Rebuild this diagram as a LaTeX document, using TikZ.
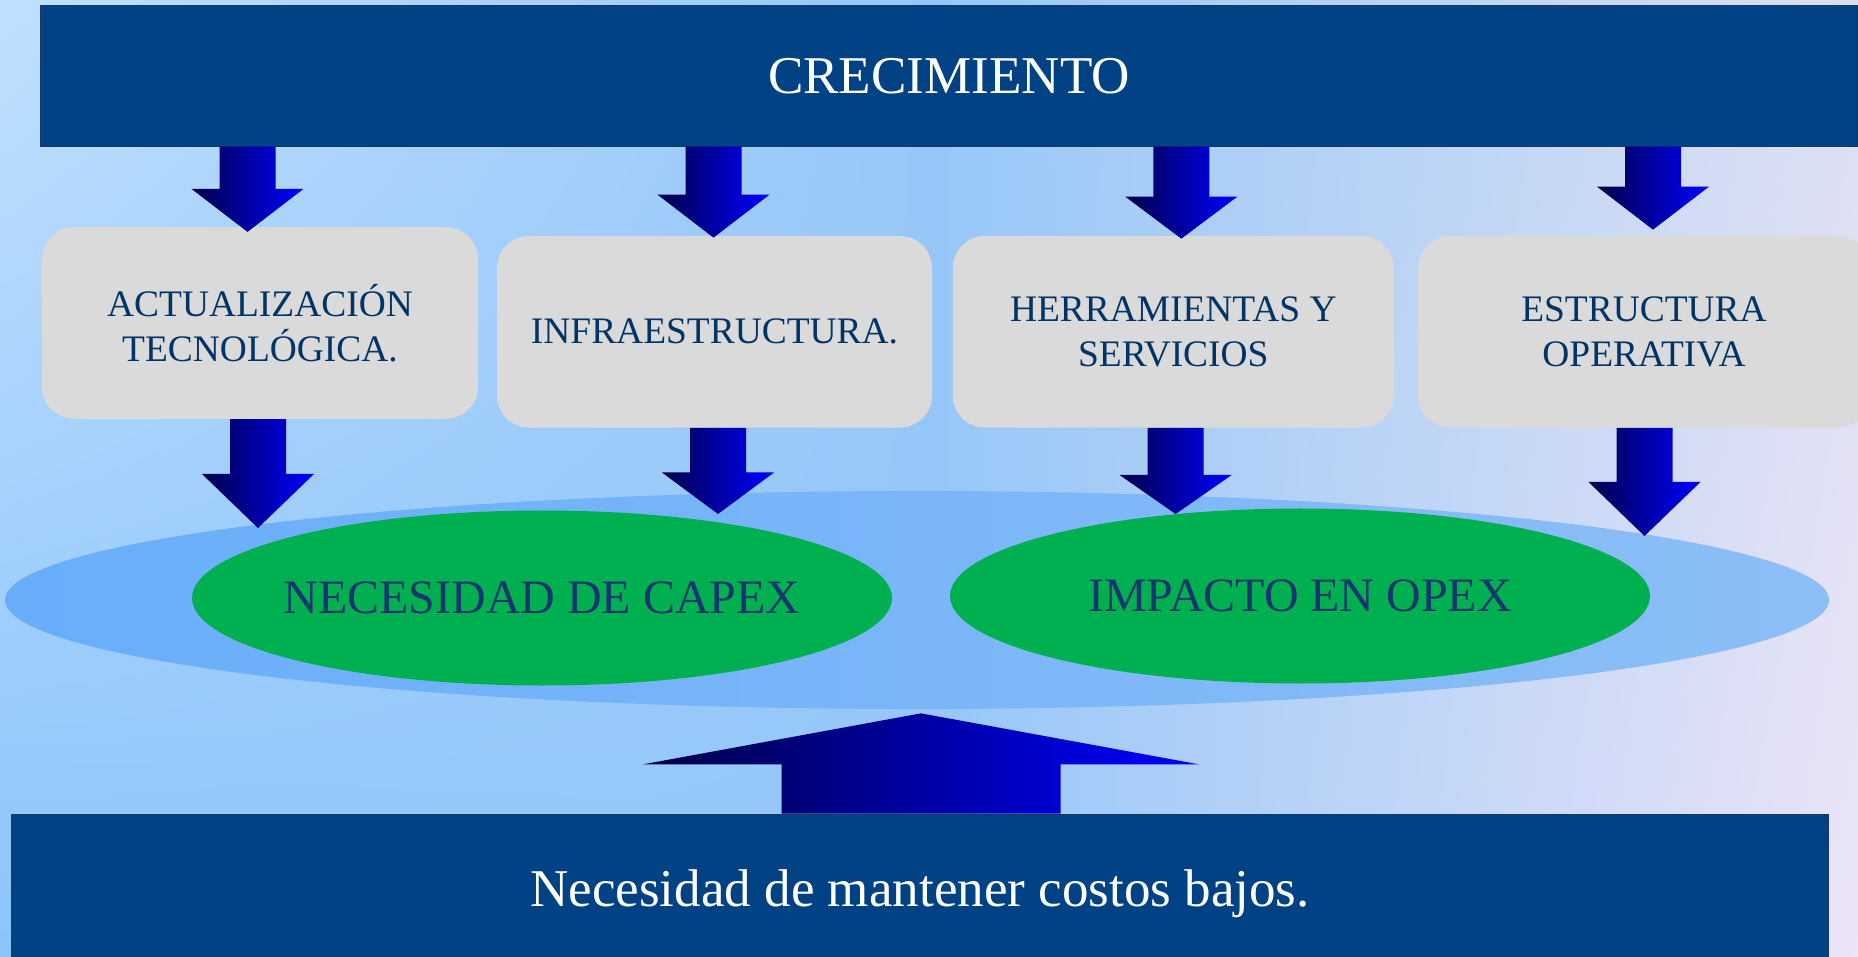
\documentclass[tikz,border=0pt]{standalone}
\usepackage{fontspec}
\setmainfont{Liberation Serif}
\usetikzlibrary{calc, positioning, shapes.geometric, shadings}
\definecolor{barblue}{RGB}{0,66,132}
\definecolor{barline}{RGB}{25,55,95}
\definecolor{boxgray}{RGB}{218,218,218}
\definecolor{boxtext}{RGB}{0,51,102}
\definecolor{ovalgreen}{RGB}{0,176,80}
\definecolor{ovaltext}{RGB}{23,54,110}
\definecolor{poolleft}{RGB}{104,174,250}
\definecolor{poolright}{RGB}{140,190,246}
\definecolor{arrowdark}{RGB}{0,0,72}
\definecolor{arrowlight}{RGB}{0,0,255}
\definecolor{bgtl}{RGB}{192,224,255}
\definecolor{bgbl}{RGB}{140,196,250}
\definecolor{bgmid}{RGB}{150,199,248}
\definecolor{bgtr}{RGB}{218,223,242}
\definecolor{bgbr}{RGB}{236,228,247}
\tikzstyle{bar} = [rectangle, draw=barline, line width=0.5pt, fill=barblue, text=white, inner sep=0pt, font=\fontsize{30.2}{36}\selectfont]
\tikzstyle{block} = [rectangle, rounded corners=6.4mm, fill=boxgray, text=boxtext, align=center, minimum height=38.3mm, inner sep=0pt, font=\fontsize{21.3}{25.6}\selectfont]
\tikzstyle{pool} = [ellipse, left color=poolleft, right color=poolright, minimum width=364.8mm, minimum height=43.6mm, inner sep=0pt]
\tikzstyle{oval} = [ellipse, fill=ovalgreen, minimum width=140mm, minimum height=35mm, inner sep=0pt]
\tikzstyle{ovaltitle} = [text=ovaltext, inner sep=0pt, font=\fontsize{27.3}{32}\selectfont]
\tikzstyle{arrowshade} = [left color=arrowdark, right color=arrowlight]
% block arrow: start, tip, shaft half width, head half width, head offset
\newcommand{\blockarrow}[5]{%
  \shade[arrowshade] ($(#2 |- #1)+(-#3,0)$) -- ($(#2)+(-#3,#5)$) -- ($(#2)+(-#4,#5)$) -- (#2)
    -- ($(#2)+(#4,#5)$) -- ($(#2)+(#3,#5)$) -- ($(#2 |- #1)+(#3,0)$) -- cycle;}

\begin{document}
\begin{tikzpicture}[x=0.2mm, y=-0.2mm]

% Canvas
\useasboundingbox (0,0) rectangle (1858,957);
\clip (0,0) rectangle (1858,957);
\shade[upper left=bgtl, lower left=bgbl, upper right=bgmid, lower right=bgmid] (0,0) rectangle (930,957);
\shade[upper left=bgmid, lower left=bgmid, upper right=bgtr, lower right=bgbr] (930,0) rectangle (1858,957);

% Top bar
\node[bar, minimum width=363.3mm, minimum height=28.1mm] (crec_bar) at (949,76) {CRECIMIENTO};

% Ovals
\node[pool] (pool_oval) at (917,600) {};
\node[oval] (capex_oval) at (542,598) {};
\node[ovaltitle] (capex_text) at (capex_oval) {NECESIDAD DE CAPEX};
\node[oval] (opex_oval) at (1300,596) {};
\node[ovaltitle] (opex_text) at (opex_oval) {IMPACTO EN OPEX};

% Boxes
\node[block, minimum width=87.2mm] (act_box) at (260,323) {ACTUALIZACIÓN\\TECNOLÓGICA.};
\node[block, minimum width=87mm] (infra_box) at (714.5,331.75) {INFRAESTRUCTURA.};
\node[block, minimum width=88.2mm] (herr_box) at (1173.3,331.75) {HERRAMIENTAS Y\\SERVICIOS};
\node[block, minimum width=90.4mm] (estr_box) at (1644,331.75) {ESTRUCTURA\\OPERATIVA};

% Bottom bar
\node[bar, minimum width=363.3mm, minimum height=32mm] (cost_bar) at (920,894) {Necesidad de mantener costos bajos.};

% Arrow ends
\coordinate (act_in) at ($(act_box.north)+(-12.5,5)$);
\coordinate (infra_in) at ($(infra_box.north)+(-1,2)$);
\coordinate (herr_in) at ($(herr_box.north)+(8,3)$);
\coordinate (estr_in) at ($(estr_box.north)+(9,-6)$);
\coordinate (act_out) at (258,528);
\coordinate (infra_out) at (718,514);
\coordinate (herr_out) at (1175.6,514);
\coordinate (estr_out) at (1644.5,536);
\coordinate (cost_up) at ($(pool_oval.south)+(4,4)$);

% Arrows from the top bar
\blockarrow{crec_bar.south}{act_in}{28}{56}{-43}
\blockarrow{crec_bar.south}{infra_in}{28}{56}{-43}
\blockarrow{crec_bar.south}{herr_in}{28}{56}{-42}
\blockarrow{crec_bar.south}{estr_in}{28}{56}{-43}

% Arrows to the ovals
\blockarrow{act_box.south}{act_out}{28}{56}{-54}
\blockarrow{infra_box.south}{infra_out}{28}{56}{-41.5}
\blockarrow{herr_box.south}{herr_out}{28}{56}{-39}
\blockarrow{estr_box.south}{estr_out}{28}{56}{-54}

% Arrow from the bottom bar
\blockarrow{cost_bar.north}{cost_up}{139.5}{278}{51}

\end{tikzpicture}
\end{document}
